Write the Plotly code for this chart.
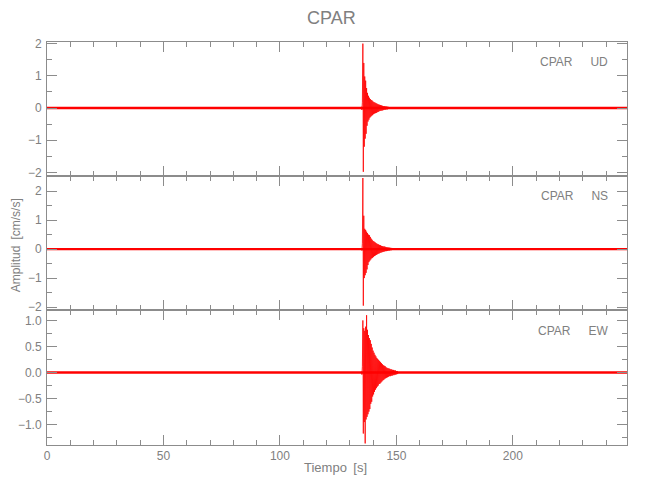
import plotly.graph_objects as go

# ---------------- data ----------------
TIME_MAX = 249.0
EVENT_T0 = 135.0   # s, first sample of the hand-read event window
EVENT_DT = 0.2     # s, spacing of the hand-read samples

components = ["UD", "NS", "EW"]
station = "CPAR"

ud_event = [0.04, -0.06, 0.18, 2.00, -1.98, 1.40, -1.20, 0.98, -0.95, 0.85,
            -0.80, 0.62, -0.55, 0.47, -0.42, 0.38, -0.36, 0.32, -0.30, 0.28,
            -0.27, 0.25, -0.24, 0.23, -0.22, 0.20, -0.19, 0.18, -0.17, 0.17,
            -0.16, 0.15, -0.15, 0.14, -0.13, 0.12, -0.12, 0.11, -0.10, 0.10,
            -0.09, 0.09, -0.08, 0.08, -0.08, 0.07, -0.07, 0.06, -0.06, 0.06,
            -0.05, 0.05, -0.05, 0.05, -0.04, 0.04, -0.04, 0.04, -0.03, 0.03,
            -0.03, 0.03, -0.03]
ns_event = [0.03, -0.05, 0.20, 2.45, -1.95, 1.15, -1.00, 0.70, -0.90, 0.66,
            -0.82, 0.60, -0.70, 0.55, -0.55, 0.50, -0.45, 0.48, -0.40, 0.42,
            -0.36, 0.36, -0.32, 0.32, -0.30, 0.28, -0.27, 0.26, -0.24, 0.24,
            -0.22, 0.21, -0.20, 0.19, -0.18, 0.17, -0.16, 0.16, -0.15, 0.14,
            -0.13, 0.13, -0.12, 0.11, -0.11, 0.10, -0.10, 0.09, -0.09, 0.09,
            -0.08, 0.08, -0.07, 0.07, -0.07, 0.06, -0.06, 0.06, -0.05, 0.05,
            -0.05, 0.05, -0.04, 0.04, -0.04, 0.04, -0.03, 0.03, -0.03]
ew_event = [0.02, -0.04, 0.12, 1.00, -1.17, 0.85, -0.95, 0.80, -1.36, 0.88,
            -0.90, 1.10, -0.85, 0.82, -0.80, 0.72, -0.75, 0.66, -0.70, 0.62,
            -0.60, 0.55, -0.56, 0.48, -0.46, 0.42, -0.42, 0.38, -0.37, 0.34,
            -0.33, 0.31, -0.30, 0.28, -0.27, 0.26, -0.25, 0.24, -0.22, 0.22,
            -0.21, 0.20, -0.19, 0.18, -0.17, 0.16, -0.15, 0.14, -0.14, 0.13,
            -0.12, 0.12, -0.11, 0.10, -0.10, 0.09, -0.09, 0.08, -0.08, 0.08,
            -0.07, 0.07, -0.07, 0.06, -0.06, 0.06, -0.06, 0.05, -0.05, 0.05,
            -0.05, 0.04, -0.04, 0.04, -0.04, 0.03, -0.03, 0.03, -0.03]

baseline_t = [0.0, TIME_MAX]
baseline_v = [0.0, 0.0]

y_ranges = [[-2.11, 2.05], [-2.10, 2.52], [-1.39, 1.20]]
y_dticks = [1.0, 1.0, 0.5]
y_minor = [0.5, 0.5, 0.25]
y_formats = ["d", "d", ".1f"]
x_tick_step = 50
x_minor_step = 10

# ---------------- styling ----------------
FONT = "Liberation Sans"
TXT = "#808080"
AX = "#8c8c8c"
RED = "#ff0000"

events = [ud_event, ns_event, ew_event]
domains = [[0.6675, 1.0], [0.335, 0.6675], [0.0, 0.335]]

fig = go.Figure()
for i, vals in enumerate(events):
    n = i + 1
    xa = "x" if n == 1 else f"x{n}"
    ya = "y" if n == 1 else f"y{n}"
    fig.add_trace(go.Scatter(x=baseline_t, y=baseline_v, mode="lines",
                             line=dict(color=RED, width=2.4),
                             xaxis=xa, yaxis=ya, showlegend=False,
                             hoverinfo="skip"))
    t = [EVENT_T0 + k * EVENT_DT for k in range(len(vals))]
    fig.add_trace(go.Scatter(x=t, y=vals, mode="lines",
                             line=dict(color=RED, width=0.8),
                             xaxis=xa, yaxis=ya, showlegend=False))

# the page body adds an 8px offset, so the figure is 642x492
layout = dict(
    width=642, height=492,
    paper_bgcolor="white", plot_bgcolor="white",
    margin=dict(l=39, r=23, t=34, b=55, autoexpand=False),
    font=dict(family=FONT, color=TXT, size=12),
    showlegend=False,
)

for i in range(3):
    n = i + 1
    xk = "xaxis" if n == 1 else f"xaxis{n}"
    yk = "yaxis" if n == 1 else f"yaxis{n}"
    ya = "y" if n == 1 else f"y{n}"
    xa = "x" if n == 1 else f"x{n}"
    layout[xk] = dict(
        range=[0, TIME_MAX], anchor=ya, domain=[0, 1], automargin=False,
        showline=True, linecolor=AX, linewidth=1, mirror="ticks",
        ticks="inside", ticklen=10, tickcolor=AX, tickwidth=1,
        tick0=0, dtick=x_tick_step,
        minor=dict(ticks="inside", dtick=x_minor_step, ticklen=5,
                   tickcolor=AX, tickwidth=1),
        showgrid=False, zeroline=False,
        showticklabels=(n == 3),
        tickfont=dict(family=FONT, color=TXT, size=12),
    )
    if n != 1:
        layout[xk]["matches"] = "x"
    layout[yk] = dict(
        range=y_ranges[i], anchor=xa, domain=domains[i], automargin=False,
        showline=True, linecolor=AX, linewidth=1, mirror="ticks",
        ticks="inside", ticklen=10, tickcolor=AX, tickwidth=1,
        tick0=0, dtick=y_dticks[i], tickformat=y_formats[i],
        minor=dict(ticks="inside", dtick=y_minor[i], ticklen=5,
                   tickcolor=AX, tickwidth=1),
        showgrid=False, zeroline=False, ticklabelstandoff=2,
        tickfont=dict(family=FONT, color=TXT, size=12),
    )

fig.update_layout(**layout)

label_y = [0.9504, 0.6179, 0.2829]
annotations = []
for comp, yy in zip(components, label_y):
    annotations.append(dict(text=f"{station}\u2003\u2002{comp}", x=0.9707, y=yy,
                            xref="paper", yref="paper", xanchor="right",
                            yanchor="middle", showarrow=False,
                            font=dict(family=FONT, color=TXT, size=12)))
annotations.append(dict(text=station, x=0.491, y=1.0596, xref="paper",
                        yref="paper", xanchor="center", yanchor="middle",
                        showarrow=False,
                        font=dict(family=FONT, color=TXT, size=18)))
annotations.append(dict(text="Tiempo\u2002[s]", x=0.4966, y=-0.057,
                        xref="paper", yref="paper", xanchor="center",
                        yanchor="middle", showarrow=False,
                        font=dict(family=FONT, color=TXT, size=13)))
annotations.append(dict(text="Amplitud\u2002[cm/s/s]", x=-0.053, y=0.4963,
                        xref="paper", yref="paper", xanchor="center",
                        yanchor="middle", textangle=-90, showarrow=False,
                        font=dict(family=FONT, color=TXT, size=12)))
fig.update_layout(annotations=annotations)

fig.write_html("out.html")
